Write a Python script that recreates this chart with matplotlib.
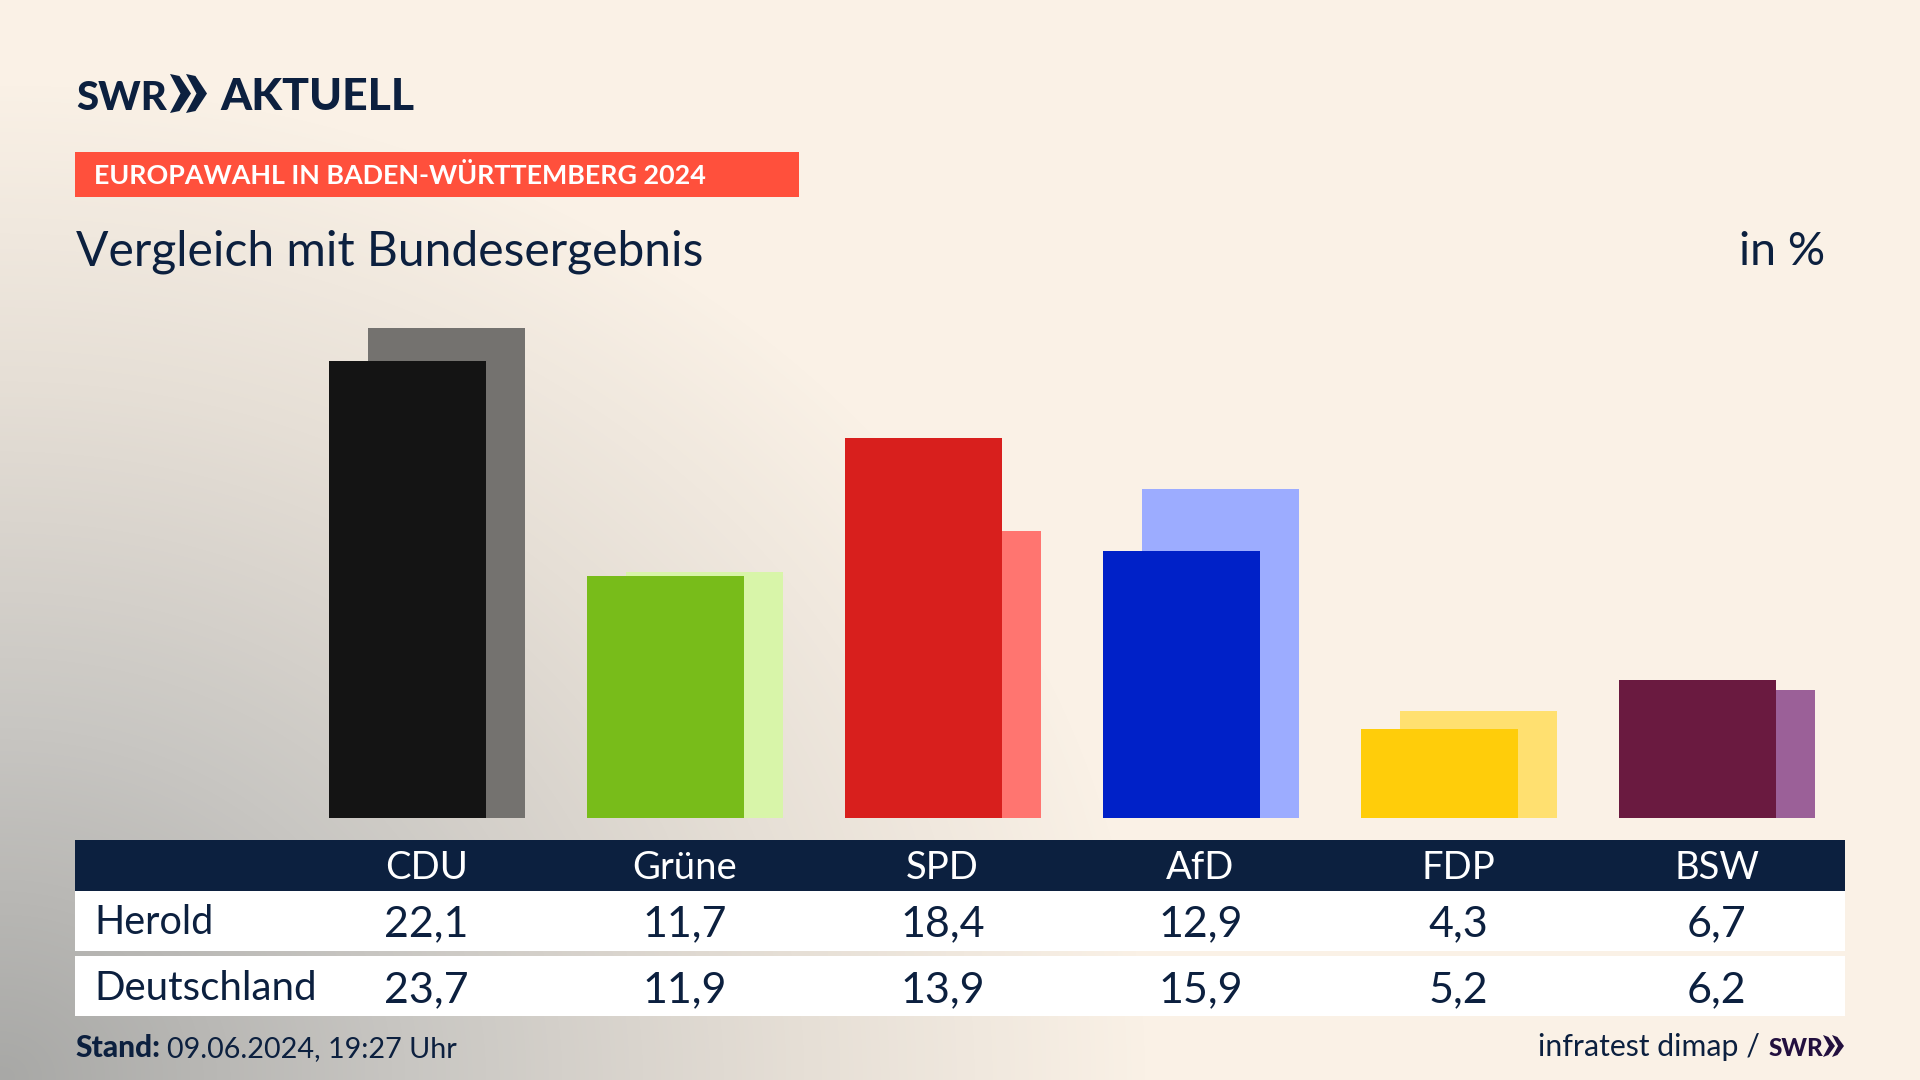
import numpy as np
import matplotlib
matplotlib.use("Agg")
import matplotlib.pyplot as plt
from matplotlib.colors import LinearSegmentedColormap
from matplotlib.patches import Rectangle, Polygon

parties = ["CDU", "Grüne", "SPD", "AfD", "FDP", "BSW"]
herold = [22.1, 11.7, 18.4, 12.9, 4.3, 6.7]
deutschland = [23.7, 11.9, 13.9, 15.9, 5.2, 6.2]
dark_colors = ["#141414", "#78bc1a", "#d81f1d", "#0021c8", "#ffcd0a", "#6a1a40"]
light_colors = ["#74726f", "#d8f5a9", "#ff7570", "#9cacff", "#ffe070", "#9b6098"]
row_labels = ["Herold", "Deutschland"]

NAVY = "#0c203f"
FONT = ["Lato", "DejaVu Sans"]

fig = plt.figure(figsize=(19.2, 10.8), dpi=100)

# background + page furniture in pixel coordinates
page = fig.add_axes([0, 0, 1, 1], zorder=0)
page.set_xlim(0, 1920)
page.set_ylim(1080, 0)
page.axis("off")

yy, xx = np.mgrid[0:1080:270j, 0:1920:480j]
t = np.sqrt((xx / 1150) ** 2 + ((1080 - yy) / 1000) ** 2)
bg_cmap = LinearSegmentedColormap.from_list(
    "bg", [(0, "#a8a8a6"), (0.35, "#c8c6c2"), (0.7, "#e6dfd6"), (1, "#faf1e6")]
)
page.imshow(np.clip(t, 0, 1), extent=(0, 1920, 1080, 0), cmap=bg_cmap, vmin=0, vmax=1,
            aspect="auto", zorder=0, interpolation="bilinear")


def chevrons(x, y0, y1, w, gap, color, n=2):
    mid = (y0 + y1) / 2
    for i in range(n):
        x0 = x + i * gap
        page.add_patch(Polygon([(x0, y0), (x0 + w * 0.45, y0 + 2), (x0 + w, mid), (x0 + w * 0.45, y1 - 2),
                                (x0, y1), (x0 + w * 0.5, mid)], closed=True, fc=color, ec="none", zorder=3))


def label(x, y, s, size, color=NAVY, ha="left", weight="normal", family=FONT):
    return page.text(x, y, s, fontsize=size, color=color, ha=ha, va="baseline",
                     fontweight=weight, family=family, zorder=4)


# logo
label(76, 110, "SWR", 29, weight=900)
chevrons(170, 74, 113, 21, 16, NAVY)
label(220, 110, "AKTUELL", 32, weight=900)

# banner and title
page.add_patch(Rectangle((75, 152), 724, 45, fc="#ff503c", ec="none", zorder=2))
label(94, 184, "EUROPAWAHL IN BADEN-WÜRTTEMBERG 2024", 19.4, color="#ffffff", weight="bold")
label(76, 265, "Vergleich mit Bundesergebnis", 34.6)
label(1825, 265, "in %", 33.5, ha="right")

# table
centers = [426.5 + 258 * i for i in range(len(parties))]
page.add_patch(Rectangle((75, 840), 1770, 51, fc=NAVY, ec="none", zorder=2))
page.add_patch(Rectangle((75, 891), 1770, 60, fc="#ffffff", ec="none", zorder=2))
page.add_patch(Rectangle((75, 956), 1770, 60, fc="#ffffff", ec="none", zorder=2))
for cx, p, a, b in zip(centers, parties, herold, deutschland):
    label(cx, 879, p, 27.5, color="#ffffff", ha="center")
    label(cx, 936, f"{a:.1f}".replace(".", ","), 31, ha="center")
    label(cx, 1002, f"{b:.1f}".replace(".", ","), 31, ha="center")
label(94, 934, row_labels[0], 28.5)
label(94, 1000, row_labels[1], 29)

# footer
label(75, 1057, "Stand:", 21.5, weight=900)
label(167, 1057, "09.06.2024, 19:27 Uhr", 20.7)
label(1760, 1056, "infratest dimap /", 21.8, ha="right")
label(1769, 1056, "SWR", 17.5, color="#23103f", weight=900)
chevrons(1823, 1035, 1057, 12, 9, "#23103f")

# bars
ax = fig.add_axes([75 / 1920, (1080 - 818) / 1080, 1770 / 1920, 518 / 1080], zorder=1)
ax.patch.set_alpha(0)
ax.axis("off")
ax.set_xlim((75 - 427) / 258, (1845 - 427) / 258)
ax.set_ylim(0, 518 / 20.67)
x = np.arange(len(parties))
width = 156.5 / 258
offset = 19.5 / 258
ax.bar(x + offset, deutschland, width, color=light_colors, zorder=1)
ax.bar(x - offset, herold, width, color=dark_colors, zorder=2)

fig.savefig("out.png", dpi=100)
